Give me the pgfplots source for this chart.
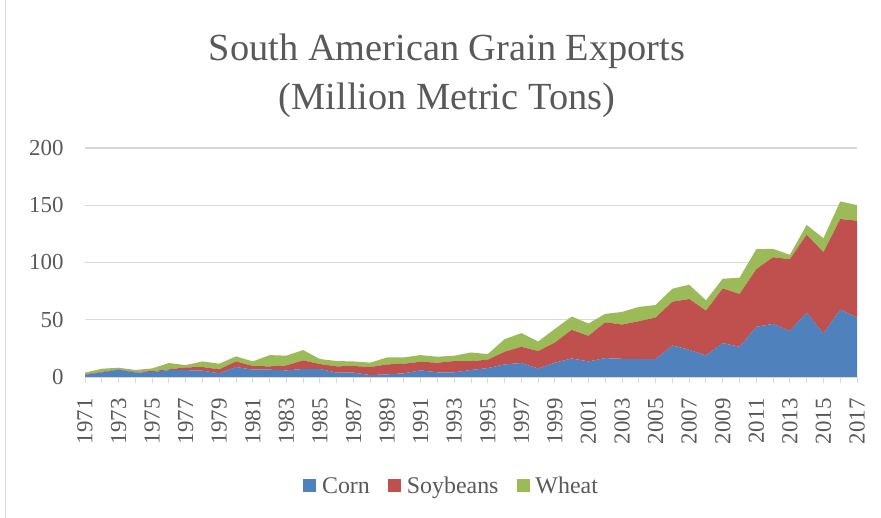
\documentclass[border=0pt]{standalone}
\usepackage{fontspec}
\setmainfont{Liberation Serif}
\usepackage{pgfplots}
\usepackage{pgfplotstable}
\pgfplotsset{compat=1.18}
\definecolor{corn}{HTML}{4F81BD}
\definecolor{soy}{HTML}{C0504D}
\definecolor{wheat}{HTML}{9BBB59}
\definecolor{txt}{HTML}{595959}
\definecolor{gridc}{HTML}{D9D9D9}

\pgfplotstableread{
year corn soy wheat
1971 2.0 0.4 1.4
1972 4.0 0.5 2.7
1973 6.4 0.3 1.4
1974 4.0 0.5 1.6
1975 4.3 0.9 2.3
1976 6.0 0.7 5.5
1977 6.0 2.4 2.0
1978 5.5 3.2 4.9
1979 3.2 3.5 4.9
1980 8.7 4.9 4.4
1981 6.4 3.2 4.0
1982 6.4 2.9 9.8
1983 5.8 4.3 8.5
1984 7.0 7.5 9.0
1985 7.0 4.3 4.4
1986 3.8 5.5 4.6
1987 3.8 5.8 4.0
1988 1.7 7.0 3.8
1989 2.3 8.7 6.1
1990 3.2 8.4 5.5
1991 5.8 7.5 5.8
1992 4.1 8.4 5.2
1993 4.1 9.8 4.7
1994 6.1 7.8 7.5
1995 7.8 7.3 4.9
1996 11.0 11.0 11.0
1997 12.2 14.2 11.9
1998 7.5 15.1 8.4
1999 12.5 17.6 11.9
2000 16.2 25.0 11.6
2001 13.6 22.3 10.8
2002 16.5 31.3 7.3
2003 15.9 29.9 11.0
2004 15.7 33.0 12.5
2005 15.7 36.2 11.0
2006 27.5 38.3 11.3
2007 23.8 44.3 12.5
2008 18.8 39.2 9.0
2009 29.6 47.8 8.4
2010 26.4 46.1 14.2
2011 43.8 50.4 17.4
2012 46.4 58.2 7.3
2013 40.3 62.6 3.8
2014 56.2 68.1 8.5
2015 38.0 71.0 12.2
2016 58.8 79.2 15.3
2017 51.9 84.6 13.6
}\datatable

\begin{document}
\begin{tikzpicture}[x=1bp,y=1bp]
\useasboundingbox (0,0) rectangle (881,518);
\draw[gridc, line width=1bp] (5,0) -- (5,518);
\node[anchor=base, text=txt, font=\fontsize{38.5}{43}\selectfont] at (447,457) {South American Grain Exports};
\node[anchor=base, text=txt, font=\fontsize{38.5}{43}\selectfont] at (447,408) {(Million Metric Tons)};
\begin{axis}[
  at={(85bp,141bp)}, anchor=south west,
  width=772bp, height=229bp, scale only axis,
  xmin=1971, xmax=2017, ymin=0, ymax=200,
  ytick={0,50,...,200},
  xtick={1971,1973,...,2017},
  minor xtick={1972,1974,...,2016},
  ymajorgrids, grid style={gridc, line width=1.2bp},
  axis lines*=left,
  y axis line style={draw=none},
  x axis line style={gridc, line width=1.2bp},
  ytick style={draw=none},
  xtick style={gridc, line width=1bp},
  minor tick style={gridc, line width=1bp},
  xtick align=outside, ytick align=inside,
  major tick length=6bp, minor tick length=6bp,
  xticklabel shift=12bp, yticklabel shift=18bp,
  xticklabel style={rotate=90, anchor=east, font=\fontsize{23}{23}\selectfont, text=txt},
  yticklabel style={font=\fontsize{23}{23}\selectfont, text=txt},
  /pgf/number format/1000 sep={},
  /pgf/number format/assume math mode=true,
  stack plots=y,
  legend columns=3,
  legend style={at={(0.4747,-0.476)}, anchor=center, draw=none, fill=none,
    font=\fontsize{24}{24}\selectfont, text=txt,
    /tikz/every odd column/.append style={column sep=4bp},
    /tikz/every even column/.append style={column sep=16bp}},
  legend image code/.code={\fill[#1] (0bp,-6.5bp) rectangle (13bp,6.5bp);},
]
\addplot[fill=corn, draw=none] table[x=year, y=corn]{\datatable} \closedcycle;
\addplot[fill=soy, draw=none] table[x=year, y=soy]{\datatable} \closedcycle;
\addplot[fill=wheat, draw=none] table[x=year, y=wheat]{\datatable} \closedcycle;
\legend{Corn, Soybeans, Wheat}
\end{axis}
\end{tikzpicture}
\end{document}
